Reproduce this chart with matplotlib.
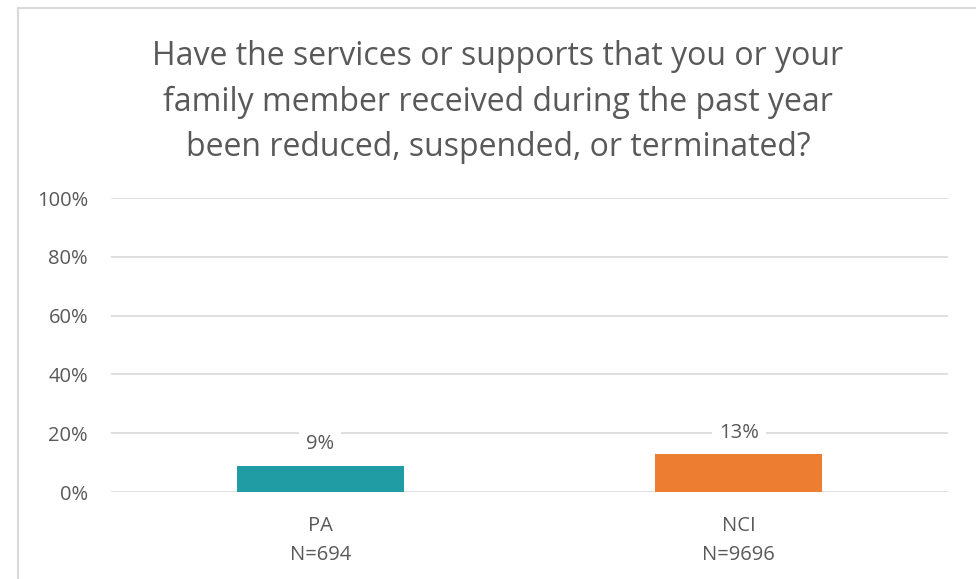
import matplotlib
matplotlib.use("Agg")
import matplotlib.pyplot as plt
from matplotlib.lines import Line2D

categories = ["PA\nN=694", "NCI\nN=9696"]
values = [9, 13]
colors = ["#209CA5", "#ED7D31"]
yticks = [0, 20, 40, 60, 80, 100]
title = ("Have the services or supports that you or your\n"
         "family member received during the past year\n"
         "been reduced, suspended, or terminated?")

plt.rcParams['font.family'] = ['Open Sans', 'DejaVu Sans']
txt = "#595959"
W, H = 976, 579
fig = plt.figure(figsize=(W/100, H/100), dpi=100)
ax = fig.add_axes([111/W, 1-492/H, (948-111)/W, (492-198)/H])

x = range(len(categories))
ax.bar(x, values, width=0.40, color=colors, zorder=3)
ax.set_xlim(-0.5, 1.5)
ax.set_ylim(0, 100)
ax.set_yticks(yticks)
ax.set_yticklabels([f"{v}%" for v in yticks], fontsize=14.5, color=txt)
ax.set_xticks(list(x))
ax.set_xticklabels(categories, fontsize=14.5, color=txt, linespacing=1.55)
ax.tick_params(axis='both', length=0)
ax.tick_params(axis='y', pad=16.5)
ax.tick_params(axis='x', pad=17.5)
ax.grid(axis='y', color='#D9D9D9', linewidth=1.2, zorder=0)
for s in ax.spines.values():
    s.set_visible(False)

for xi, v in zip(x, values):
    ax.annotate(f"{v}%", (xi, v), xytext=(0, 8), textcoords='offset points',
                ha='center', va='bottom', fontsize=14.5, color=txt, zorder=5,
                bbox=dict(boxstyle='square,pad=0.35', fc='white', ec='none'))

fig.text(498/W, 1-102/H, title, ha='center', va='center', fontsize=23,
         color=txt, linespacing=1.48)

fig.add_artist(Line2D([17.5/W, 17.5/W], [0, 1-7.5/H], color='#D9D9D9', lw=1.5,
                      transform=fig.transFigure))
fig.add_artist(Line2D([17.5/W, 1], [1-7.5/H, 1-7.5/H], color='#D9D9D9', lw=1.5,
                      transform=fig.transFigure))

fig.savefig("out.png", dpi=100, facecolor='white')
